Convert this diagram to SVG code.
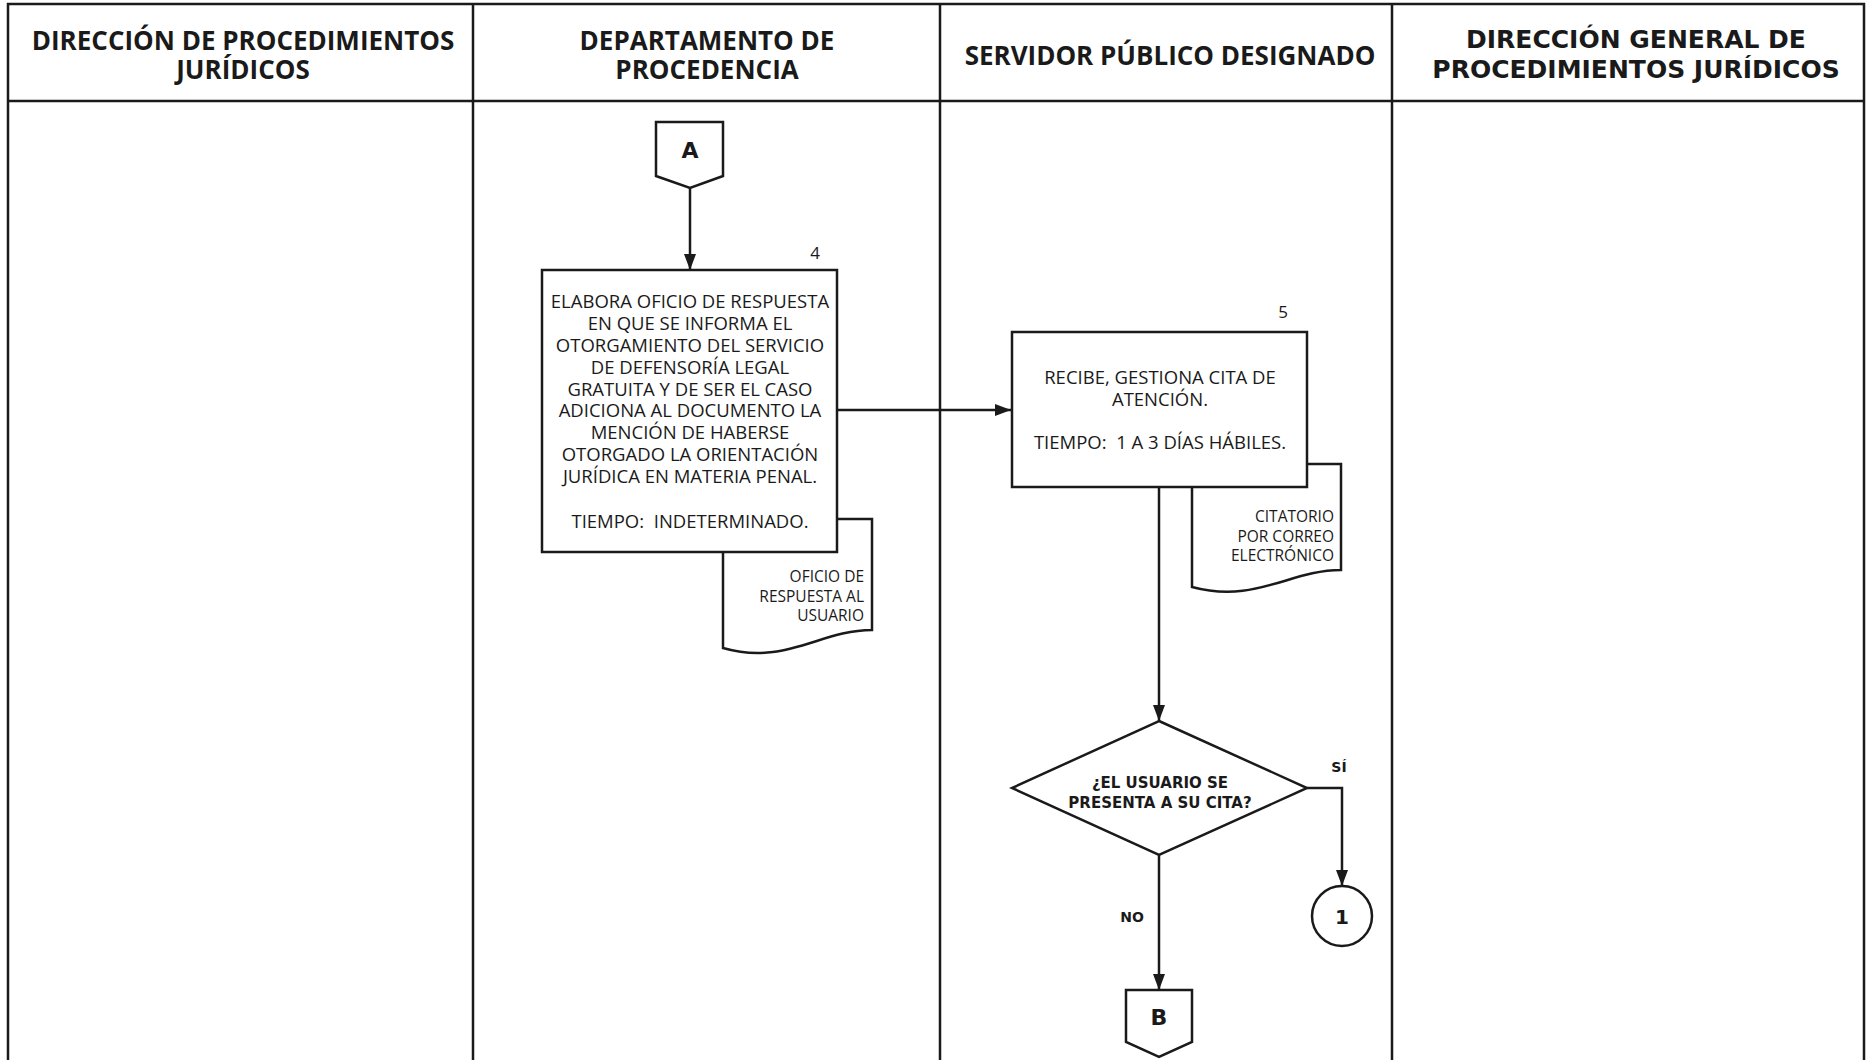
<svg xmlns="http://www.w3.org/2000/svg" width="1870" height="1060" viewBox="0 0 1870 1060">
<style>
.lane{fill:none;stroke:#1a1a1a;stroke-width:2.5}
.shape{fill:#fff;stroke:#1a1a1a;stroke-width:2.5}
.conn{fill:none;stroke:#1a1a1a;stroke-width:2.5}
.hdr{font-family:"Open Sans","Noto Sans",sans-serif;font-weight:700;font-size:26px;fill:#1a1a1a;text-anchor:middle}
.hdr2{font-family:"DejaVu Sans",sans-serif;font-weight:700;font-size:25px;fill:#1a1a1a;text-anchor:middle}
.txt{font-family:"Open Sans","Noto Sans",sans-serif;font-size:18.5px;fill:#1a1a1a;text-anchor:middle}
.doc{font-family:"Open Sans","Noto Sans",sans-serif;font-size:15.5px;fill:#1a1a1a;text-anchor:end}
.num{font-family:"Open Sans","Noto Sans",sans-serif;font-size:17px;fill:#1a1a1a;text-anchor:middle}
.dec{font-family:"DejaVu Sans",sans-serif;font-weight:700;font-size:15px;fill:#1a1a1a;text-anchor:middle}
.lbl{font-family:"DejaVu Sans",sans-serif;font-weight:700;font-size:14px;fill:#1a1a1a;text-anchor:middle}
.con{font-family:"DejaVu Sans",sans-serif;font-weight:700;font-size:22px;fill:#1a1a1a;text-anchor:middle}
</style>
<defs>
<marker id="arr" viewBox="0 0 16 12" refX="16" refY="6" markerWidth="16" markerHeight="12" markerUnits="userSpaceOnUse" orient="auto">
<path d="M0,0 L16,6 L0,12 Z" fill="#1a1a1a"/>
</marker>
</defs>
<rect x="0" y="0" width="1870" height="1060" fill="#fff"/>
<g id="lanes">
<path class="lane" d="M8,1060 V4 H1864 V1060"/>
<path class="lane" d="M8,101 H1864"/>
<path class="lane" d="M473,4 V1060 M940,4 V1060 M1392,4 V1060"/>
<text class="hdr" x="243" y="50">DIRECCIÓN DE PROCEDIMIENTOS</text>
<text class="hdr" x="243" y="79">JURÍDICOS</text>
<text class="hdr" x="707" y="50">DEPARTAMENTO DE</text>
<text class="hdr" x="707" y="79">PROCEDENCIA</text>
<text class="hdr" x="1170" y="65">SERVIDOR PÚBLICO DESIGNADO</text>
<text class="hdr2" x="1636" y="48">DIRECCIÓN GENERAL DE</text>
<text class="hdr2" x="1636" y="78">PROCEDIMIENTOS JURÍDICOS</text>
</g>
<g id="connectors">
<path class="conn" d="M690,188 V270" marker-end="url(#arr)"/>
<path class="conn" d="M837,410 H1011" marker-end="url(#arr)"/>
<path class="conn" d="M1159,487 V721" marker-end="url(#arr)"/>
<path class="conn" d="M1307,788 H1342 V886" marker-end="url(#arr)"/>
<path class="conn" d="M1159,855 V990" marker-end="url(#arr)"/>
<text class="lbl" x="1339" y="772">SÍ</text>
<text class="lbl" x="1132" y="922">NO</text>
</g>
<g id="connA">
<path class="shape" d="M656,122 H723 V176 L690,188 L656,176 Z"/>
<text class="con" x="690" y="158">A</text>
</g>
<g id="doc4">
<path class="shape" d="M723,519 H872 V630 C820,630 785,666 723,648 Z"/>
<text class="doc" x="864" y="582">OFICIO DE</text>
<text class="doc" x="864" y="602">RESPUESTA AL</text>
<text class="doc" x="864" y="621">USUARIO</text>
</g>
<g id="step4">
<rect class="shape" x="542" y="270" width="295" height="282"/>
<text class="num" x="815" y="259">4</text>
<text class="txt" x="690" y="308">ELABORA OFICIO DE RESPUESTA</text>
<text class="txt" x="690" y="330">EN QUE SE INFORMA EL</text>
<text class="txt" x="690" y="352">OTORGAMIENTO DEL SERVICIO</text>
<text class="txt" x="690" y="374">DE DEFENSORÍA LEGAL</text>
<text class="txt" x="690" y="396">GRATUITA Y DE SER EL CASO</text>
<text class="txt" x="690" y="417">ADICIONA AL DOCUMENTO LA</text>
<text class="txt" x="690" y="439">MENCIÓN DE HABERSE</text>
<text class="txt" x="690" y="461">OTORGADO LA ORIENTACIÓN</text>
<text class="txt" x="690" y="483">JURÍDICA EN MATERIA PENAL.</text>
<text class="txt" x="690" y="528" xml:space="preserve">TIEMPO:  INDETERMINADO.</text>
</g>
<g id="doc5">
<path class="shape" d="M1192,464 H1341 V570 C1290,570 1255,604 1192,587 Z"/>
<text class="doc" x="1334" y="522">CITATORIO</text>
<text class="doc" x="1334" y="542">POR CORREO</text>
<text class="doc" x="1334" y="561">ELECTRÓNICO</text>
</g>
<g id="step5">
<rect class="shape" x="1012" y="332" width="295" height="155"/>
<text class="num" x="1283" y="318">5</text>
<text class="txt" x="1160" y="384">RECIBE, GESTIONA CITA DE</text>
<text class="txt" x="1160" y="406">ATENCIÓN.</text>
<text class="txt" x="1160" y="449" xml:space="preserve">TIEMPO:  1 A 3 DÍAS HÁBILES.</text>
</g>
<g id="decision">
<path class="shape" d="M1159,721 L1307,788 L1159,855 L1012,788 Z"/>
<text class="dec" x="1160" y="788">¿EL USUARIO SE</text>
<text class="dec" x="1160" y="808">PRESENTA A SU CITA?</text>
</g>
<g id="conn1">
<circle class="shape" cx="1342" cy="916" r="30"/>
<text class="con" x="1342" y="924" style="font-size:20px">1</text>
</g>
<g id="connB">
<path class="shape" d="M1126,990 H1192 V1042 L1159,1057 L1126,1042 Z"/>
<text class="con" x="1159" y="1025">B</text>
</g>
</svg>
